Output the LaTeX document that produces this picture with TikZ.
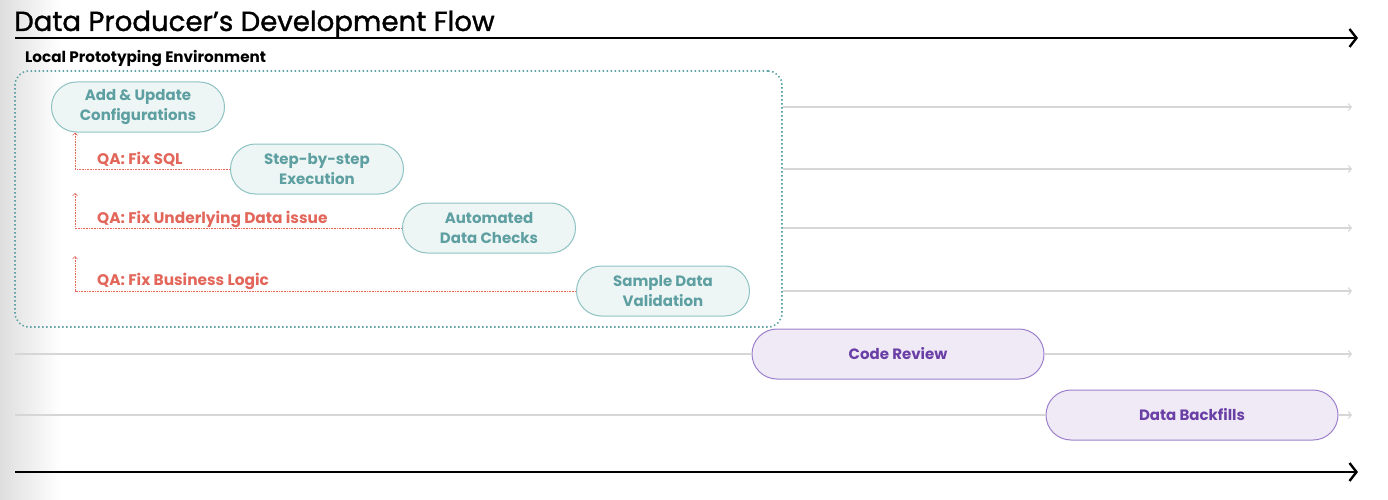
\documentclass[tikz,border=0pt]{standalone}
\usepackage{fontspec}
\setmainfont{Poppins}
\newfontfamily\titlefont[FakeBold=1.2]{Poppins}
\usetikzlibrary{arrows.meta,positioning}
\definecolor{tealtext}{HTML}{5E9FA2}
\definecolor{tealfill}{HTML}{EEF6F5}
\definecolor{tealline}{HTML}{8EC2C3}
\definecolor{envline}{HTML}{5FA3A8}
\definecolor{purpletext}{HTML}{6A3FA6}
\definecolor{purplefill}{HTML}{EFEAF6}
\definecolor{purpleline}{HTML}{9D80CC}
\definecolor{qared}{HTML}{E2665A}
\definecolor{lanegray}{HTML}{D6D6D6}

\begin{document}
\begin{tikzpicture}[x=1pt,y=-1pt,
  local step/.style={draw=tealline, fill=tealfill, text=tealtext, line width=1pt,
    rounded corners=25pt, minimum width=173pt, minimum height=50pt, align=center,
    font=\fontsize{15}{20}\selectfont\bfseries, inner sep=0pt},
  shared step/.style={local step, draw=purpleline, fill=purplefill,
    text=purpletext, minimum width=292pt},
  qa line/.style={draw=qared, line width=0.6pt, dash pattern=on 1pt off 0.6pt,
    -{Straight Barb[length=2.5pt,width=5pt]}},
  qa label/.style={text=qared, anchor=west, inner sep=0pt,
    font=\fontsize{15.4}{17}\selectfont\bfseries},
  lane/.style={draw=lanegray, line width=1.1pt,
    -{Straight Barb[length=3pt,width=7pt]}},
  time axis/.style={draw=black, line width=2.6pt,
    -{Straight Barb[length=7pt,width=18pt,line width=2.4pt]}}
  ]
  \useasboundingbox (0,0) rectangle (1388,500);
  \shade[left color=black!13, right color=white] (0,0) rectangle (60,500);

  % title and time axes
  \node[anchor=base west, inner sep=0pt, font=\fontsize{27.6}{30}\titlefont]
    (title) at (14,31) {Data Producer’s Development Flow};
  \coordinate (top start) at (15,38);
  \coordinate (top end) at (1358,38);
  \coordinate (bottom start) at (15,472);
  \coordinate (bottom end) at (1358,472);
  \draw[time axis] (top start) -- (top end);
  \draw[time axis] (bottom start) -- (bottom end);

  % local environment
  \node[draw=envline, line width=1.6pt, dash pattern=on 1.5pt off 2.5pt,
    rounded corners=14pt, minimum width=767pt, minimum height=256pt]
    (env) at (398.5,199) {};
  \node[anchor=base west, inner sep=0pt, font=\fontsize{15.2}{17}\selectfont\bfseries]
    (env label) at (25,63) {Local Prototyping Environment};

  % steps
  \node[local step] (config) at (138,107) {Add \& Update\\Configurations};
  \node[local step] (exec) at (317,169) {Step-by-step\\Execution};
  \node[local step] (checks) at (489,228) {Automated\\Data Checks};
  \node[local step] (sample) at (663,291) {Sample Data\\Validation};
  \node[shared step] (review) at (898,354) {Code Review};
  \node[shared step] (backfill) at (1192,415) {Data Backfills};

  % lanes
  \coordinate (lane start) at (15,0);
  \coordinate (lane end) at (1352,0);
  \foreach \s in {config,exec,checks,sample}
    \draw[lane] (env.east |- \s) -- (lane end |- \s);
  \draw[lane,-] (lane start |- review) -- (review.west);
  \draw[lane] (review.east) -- (lane end |- review);
  \draw[lane,-] (lane start |- backfill) -- (backfill.west);
  \draw[lane] (backfill.east) -- (lane end |- backfill);

  % QA loops
  \coordinate (qa x) at (75,0);
  \coordinate (qa tip 2) at (75,193);
  \coordinate (qa tip 3) at (75,256);
  \draw[qa line] (exec.west) -| (qa x |- config.south);
  \draw[qa line] (checks.west) -| (qa tip 2);
  \draw[qa line] (sample.west) -| (qa tip 3);
  \node[qa label] (qa sql) at (97,159) {QA: Fix SQL};
  \node[qa label] (qa data) at (97,219) {QA: Fix Underlying Data issue};
  \node[qa label] (qa logic) at (97,281) {QA: Fix Business Logic};
\end{tikzpicture}
\end{document}
